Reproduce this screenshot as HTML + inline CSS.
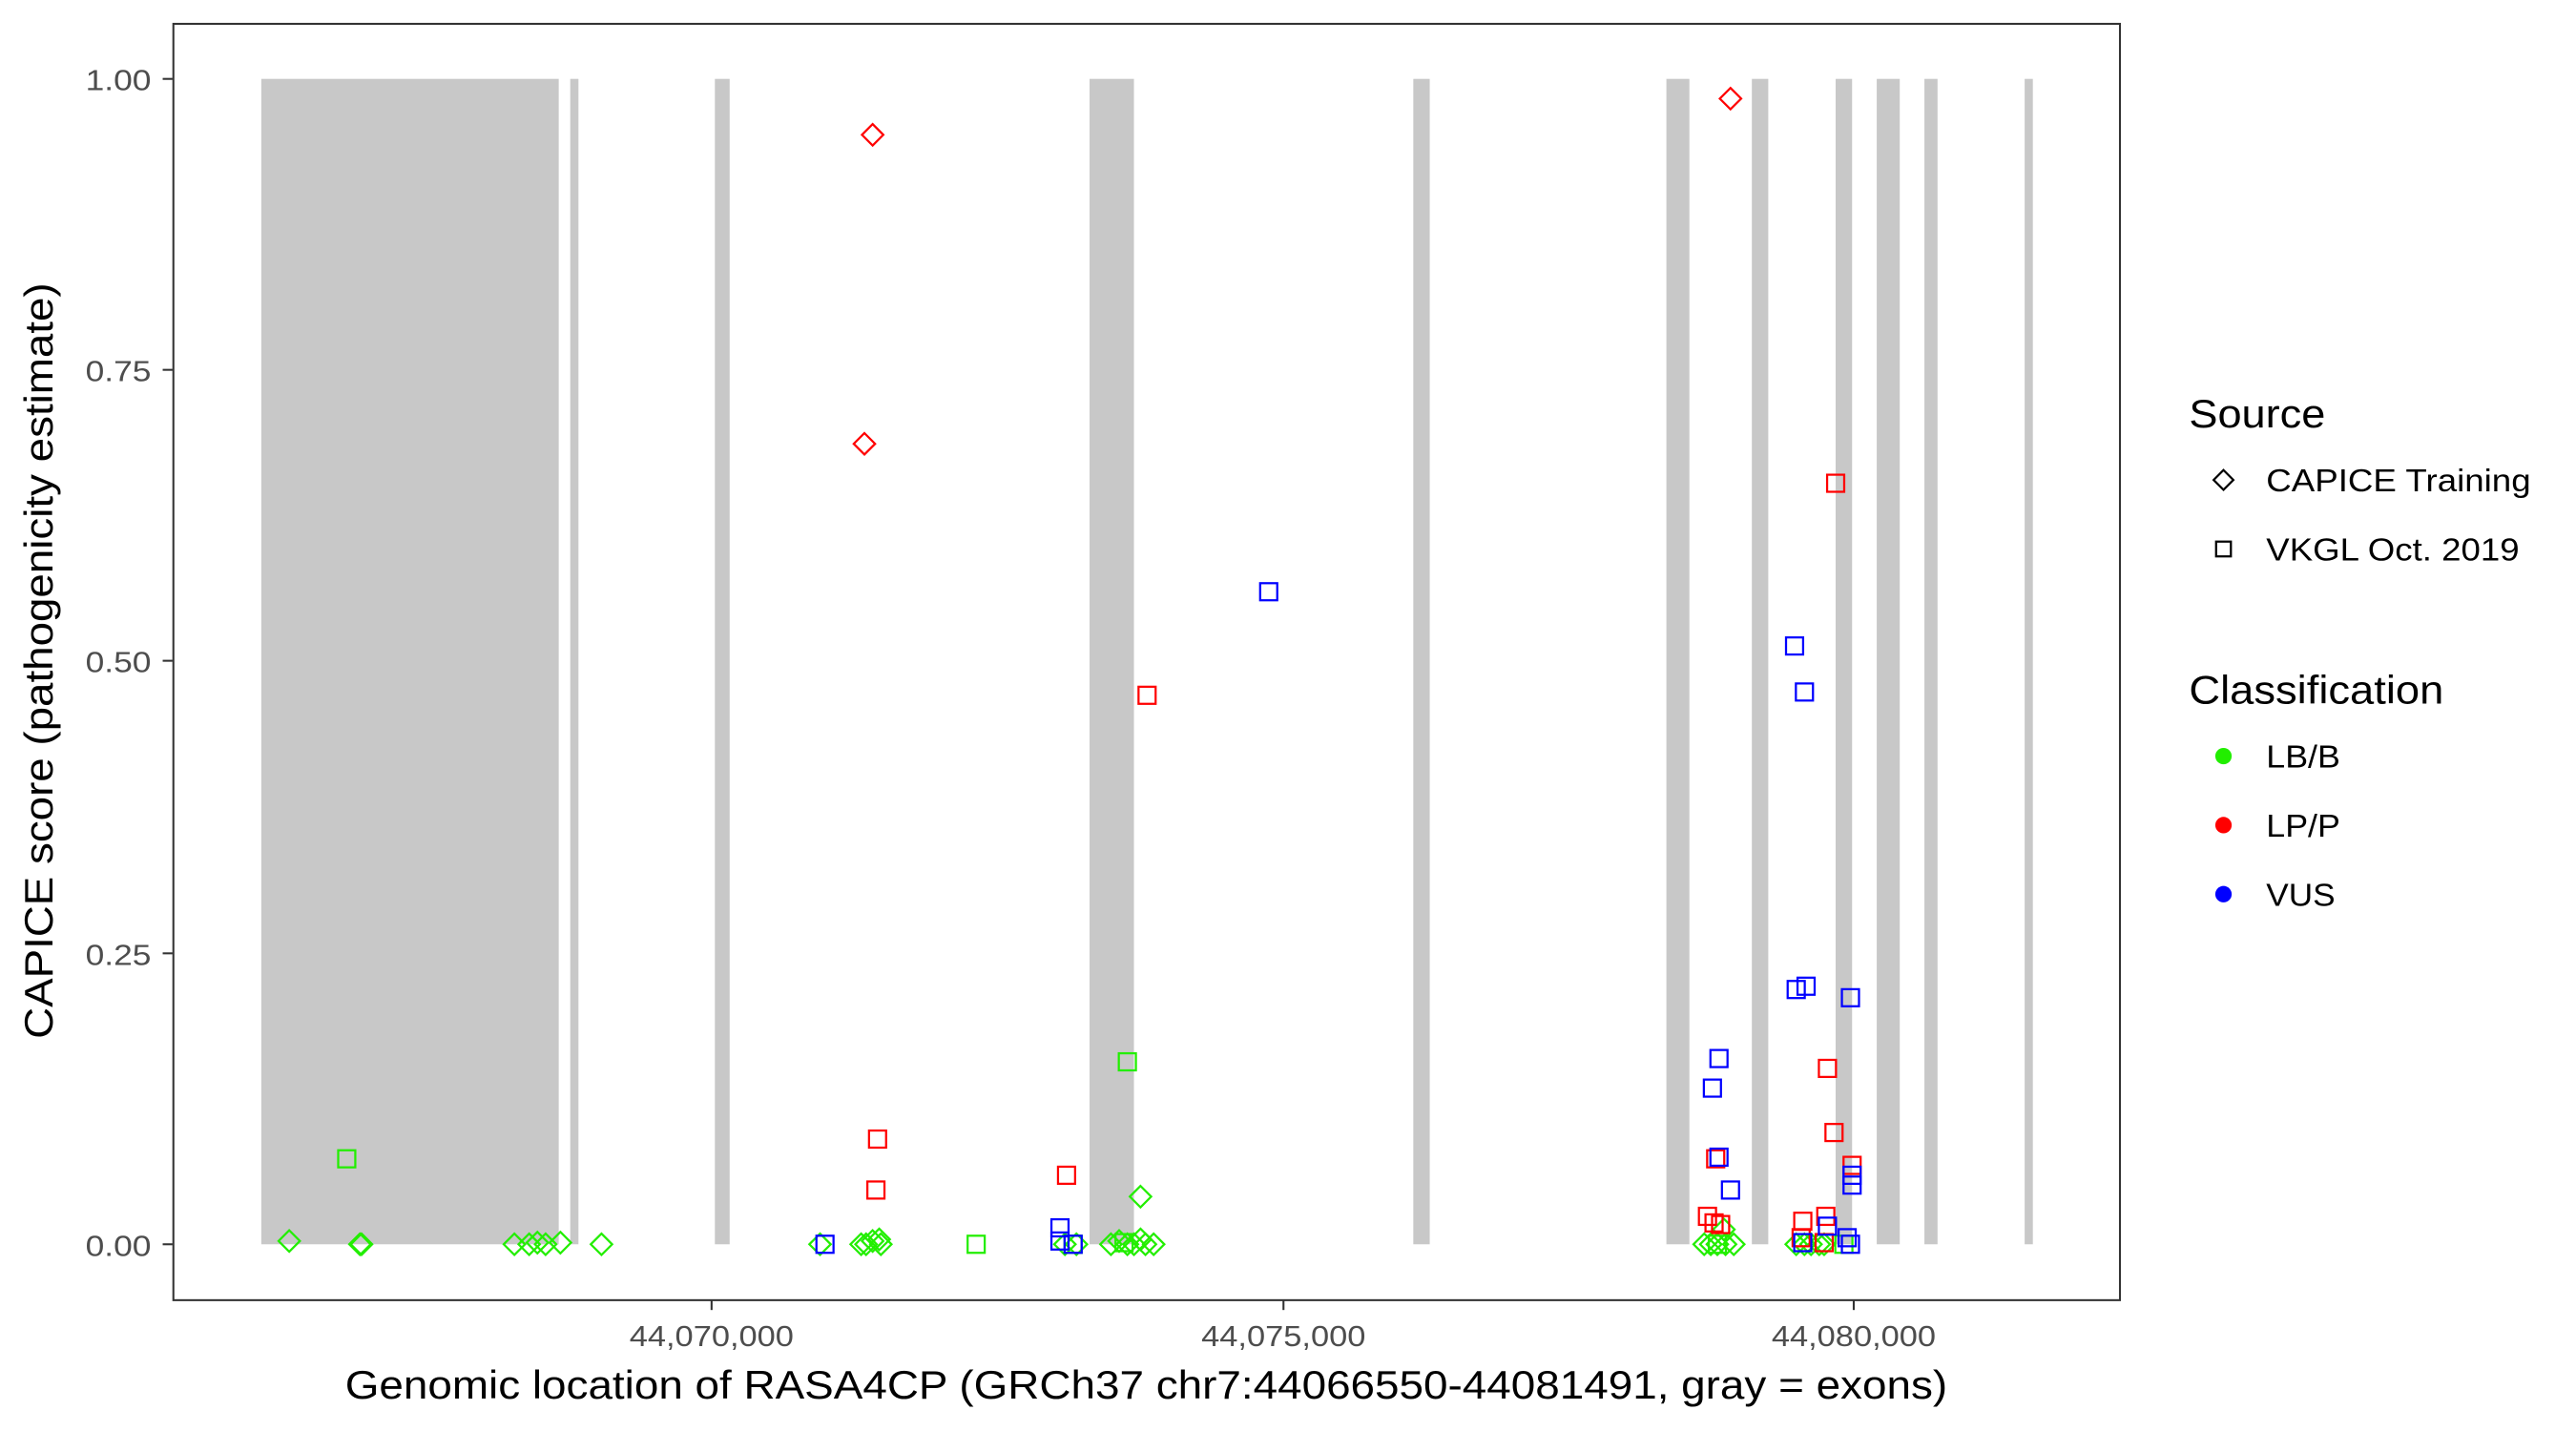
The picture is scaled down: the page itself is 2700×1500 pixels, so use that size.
<!DOCTYPE html>
<html><head><meta charset="utf-8"><style>html,body{margin:0;padding:0;background:#fff}svg{display:block}</style></head>
<body>
<svg width="2700" height="1500" viewBox="0 0 1567.5 870.6" preserveAspectRatio="none" xmlns="http://www.w3.org/2000/svg" font-family="Liberation Sans, sans-serif">
<rect width="1567.5" height="870.6" fill="#fff"/>
<g fill="#c8c8c8">
<rect x="159" y="48" width="181" height="709"/>
<rect x="347" y="48" width="5" height="709"/>
<rect x="435" y="48" width="9" height="709"/>
<rect x="663" y="48" width="27" height="709"/>
<rect x="860" y="48" width="10" height="709"/>
<rect x="1014" y="48" width="14" height="709"/>
<rect x="1066" y="48" width="10" height="709"/>
<rect x="1117" y="48" width="10" height="709"/>
<rect x="1142" y="48" width="14" height="709"/>
<rect x="1171" y="48" width="8" height="709"/>
<rect x="1232" y="48" width="5" height="709"/>
</g>
<defs>
<path id="d" d="M0,-6.5 L6.5,0 L0,6.5 L-6.5,0 Z" fill="none" stroke-width="1.3"/>
<rect id="s" x="-5.2" y="-5.2" width="10.4" height="10.4" fill="none" stroke-width="1.3"/>
</defs>
<g stroke="#22ee00">
<use href="#d" x="176" y="755"/><use href="#d" x="219" y="757"/><use href="#d" x="220" y="757"/>
<use href="#d" x="313" y="757"/><use href="#d" x="322" y="757"/><use href="#d" x="327" y="756"/><use href="#d" x="332" y="757"/><use href="#d" x="341" y="756"/><use href="#d" x="366" y="757"/>
<use href="#d" x="499" y="757"/><use href="#d" x="524" y="757"/><use href="#d" x="527" y="757"/><use href="#d" x="531" y="755"/><use href="#d" x="535" y="754"/><use href="#d" x="536" y="757"/>
<use href="#d" x="655" y="757"/><use href="#d" x="648" y="757"/><use href="#d" x="676" y="757"/><use href="#d" x="681" y="755"/><use href="#d" x="686" y="757"/><use href="#d" x="690" y="757"/><use href="#d" x="694" y="754"/><use href="#d" x="697" y="757"/><use href="#d" x="702" y="757"/><use href="#d" x="694" y="728"/>
<use href="#d" x="1037" y="757"/><use href="#d" x="1041" y="757"/><use href="#d" x="1045" y="757"/><use href="#d" x="1049" y="748"/><use href="#d" x="1050" y="757"/><use href="#d" x="1055" y="757"/>
<use href="#d" x="1093" y="757"/><use href="#d" x="1098" y="757"/><use href="#d" x="1102" y="757"/><use href="#d" x="1107" y="757"/><use href="#d" x="1110" y="757"/>
<use href="#s" x="211" y="705"/><use href="#s" x="594" y="757"/><use href="#s" x="686" y="646"/><use href="#s" x="653" y="757"/><use href="#s" x="684" y="756"/><use href="#s" x="1045" y="757"/><use href="#s" x="1122" y="757"/>
</g>
<g stroke="#ff0000">
<use href="#d" x="531" y="82"/><use href="#d" x="526" y="270"/><use href="#d" x="1053" y="60"/>
<use href="#s" x="534" y="693"/><use href="#s" x="533" y="724"/><use href="#s" x="649" y="715"/><use href="#s" x="698" y="423"/>
<use href="#s" x="1117" y="294"/><use href="#s" x="1112" y="650"/><use href="#s" x="1116" y="689"/><use href="#s" x="1127" y="709"/>
<use href="#s" x="1039" y="740"/><use href="#s" x="1043" y="744"/><use href="#s" x="1047" y="745"/><use href="#s" x="1044" y="705"/>
<use href="#s" x="1111" y="740"/><use href="#s" x="1097" y="743"/><use href="#s" x="1110" y="756"/><use href="#s" x="1096" y="753"/>
</g>
<g stroke="#0000ff">
<use href="#s" x="772" y="360"/><use href="#s" x="502" y="757"/><use href="#s" x="645" y="747"/><use href="#s" x="645" y="755"/><use href="#s" x="653" y="757"/>
<use href="#s" x="1092" y="393"/><use href="#s" x="1098" y="421"/><use href="#s" x="1093" y="602"/><use href="#s" x="1099" y="600"/><use href="#s" x="1126" y="607"/>
<use href="#s" x="1046" y="644"/><use href="#s" x="1042" y="662"/><use href="#s" x="1046" y="704"/><use href="#s" x="1053" y="724"/>
<use href="#s" x="1127" y="715"/><use href="#s" x="1127" y="721"/><use href="#s" x="1112" y="746"/><use href="#s" x="1124" y="753"/><use href="#s" x="1126" y="757"/><use href="#s" x="1097" y="756"/>
</g>
<rect x="105.5" y="14.5" width="1184.5" height="776.5" fill="none" stroke="#333" stroke-width="1.2"/>
<g stroke="#333" stroke-width="1.2">
<line x1="99" y1="48" x2="105" y2="48"/><line x1="99" y1="225" x2="105" y2="225"/><line x1="99" y1="402" x2="105" y2="402"/><line x1="99" y1="580" x2="105" y2="580"/><line x1="99" y1="757" x2="105" y2="757"/>
<line x1="433" y1="791" x2="433" y2="797"/><line x1="781" y1="791" x2="781" y2="797"/><line x1="1128" y1="791" x2="1128" y2="797"/>
</g>
<g fill="#4d4d4d" font-size="18" text-anchor="end">
<text x="92" y="55" textLength="40" lengthAdjust="spacingAndGlyphs">1.00</text><text x="92" y="232" textLength="40" lengthAdjust="spacingAndGlyphs">0.75</text><text x="92" y="409" textLength="40" lengthAdjust="spacingAndGlyphs">0.50</text><text x="92" y="587" textLength="40" lengthAdjust="spacingAndGlyphs">0.25</text><text x="92" y="764" textLength="40" lengthAdjust="spacingAndGlyphs">0.00</text>
</g>
<g fill="#4d4d4d" font-size="18">
<text x="383" y="819" textLength="100" lengthAdjust="spacingAndGlyphs">44,070,000</text><text x="731" y="819" textLength="100" lengthAdjust="spacingAndGlyphs">44,075,000</text><text x="1078" y="819" textLength="100" lengthAdjust="spacingAndGlyphs">44,080,000</text>
</g>
<text x="210" y="851" font-size="24" fill="#000" textLength="975" lengthAdjust="spacingAndGlyphs">Genomic location of RASA4CP (GRCh37 chr7:44066550-44081491, gray = exons)</text>
<text transform="translate(32,632) rotate(-90)" font-size="24" fill="#000" textLength="460" lengthAdjust="spacingAndGlyphs">CAPICE score (pathogenicity estimate)</text>
<text x="1332" y="260" font-size="24" fill="#000" textLength="83" lengthAdjust="spacingAndGlyphs">Source</text>
<path d="M1353,286 L1359,292 L1353,298 L1347,292 Z" fill="none" stroke="#000" stroke-width="1.3"/>
<text x="1379" y="299" font-size="19.5" fill="#000" textLength="161" lengthAdjust="spacingAndGlyphs">CAPICE Training</text>
<rect x="1348.5" y="329.5" width="9" height="9" fill="none" stroke="#000" stroke-width="1.3"/>
<text x="1379" y="341" font-size="19.5" fill="#000" textLength="154" lengthAdjust="spacingAndGlyphs">VKGL Oct. 2019</text>
<text x="1332" y="428" font-size="24" fill="#000" textLength="155" lengthAdjust="spacingAndGlyphs">Classification</text>
<circle cx="1353" cy="460" r="5" fill="#22ee00"/><text x="1379" y="467" font-size="19.5" fill="#000" textLength="45" lengthAdjust="spacingAndGlyphs">LB/B</text>
<circle cx="1353" cy="502" r="5" fill="#ff0000"/><text x="1379" y="509" font-size="19.5" fill="#000" textLength="45" lengthAdjust="spacingAndGlyphs">LP/P</text>
<circle cx="1353" cy="544" r="5" fill="#0000ff"/><text x="1379" y="551" font-size="19.5" fill="#000" textLength="42" lengthAdjust="spacingAndGlyphs">VUS</text>
</svg>
</body></html>
